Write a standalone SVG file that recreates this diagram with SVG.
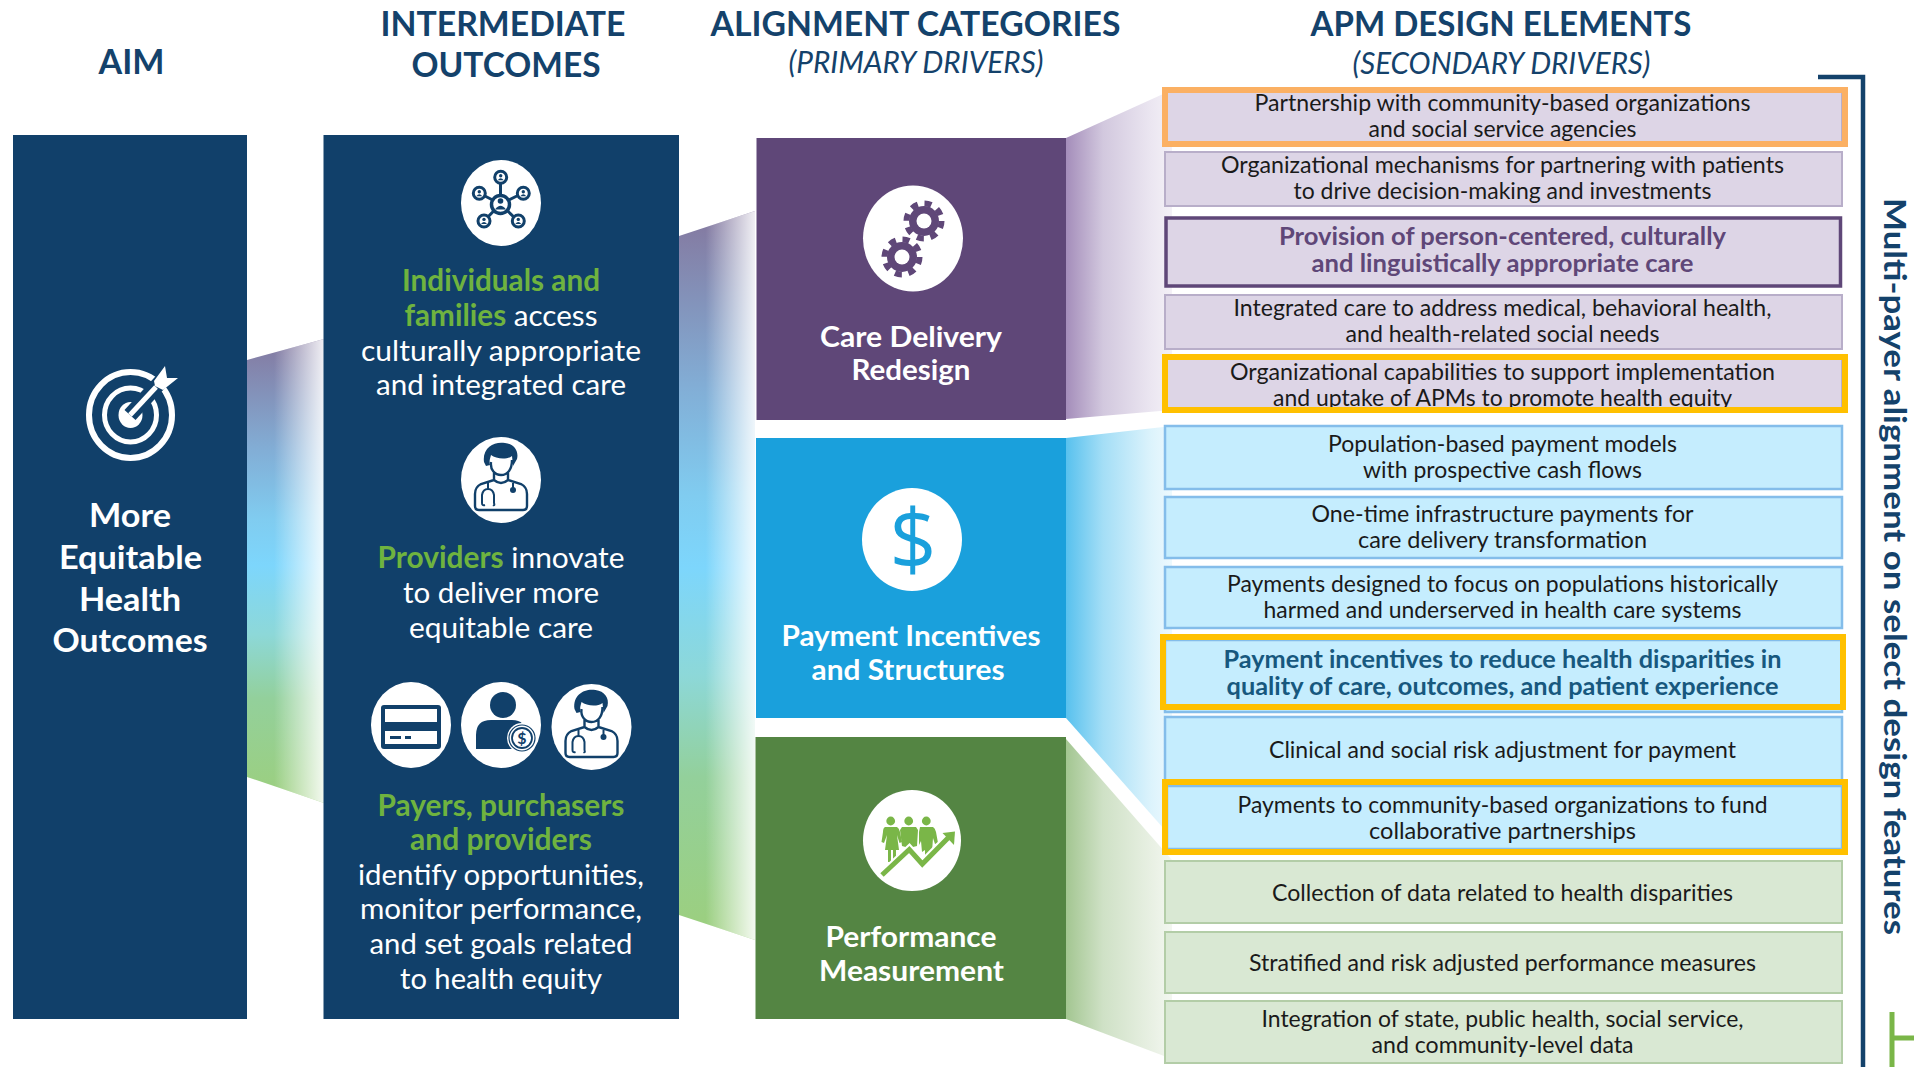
<svg xmlns="http://www.w3.org/2000/svg" xmlns:xlink="http://www.w3.org/1999/xlink" width="1914" height="1067" viewBox="0 0 1914 1067">
<style>
text{font-family:Lato,"Liberation Sans",sans-serif;text-anchor:middle}
.hd{font-size:35px;font-weight:700;fill:#14426b}
.hi{font-size:30px;font-style:italic;fill:#14426b}
.aim{font-size:33px;font-weight:700;fill:#fff}
.out{font-size:29.5px;fill:#fff}
.g{font-weight:700;fill:#6fb33f}
.cat{font-size:29px;font-weight:700;fill:#fff}
.el{font-size:24px;fill:#1a1a1a}
.b1{font-weight:700;fill:#5f4778}
.b2{font-weight:700;fill:#17587e}
.pu{fill:#ddd5e6;stroke:#b8aec9;stroke-width:2}
.bl{fill:#c5edfe;stroke:#84bdea;stroke-width:2.5}
.gr{fill:#d9e8d3;stroke:#b3cda7;stroke-width:2}
.hl{fill:none;stroke-width:6}
.navy{fill:#11406a}
.wh{fill:#fff}
.nl{stroke:#11406a;stroke-width:3;fill:none}
</style>
<defs>
<linearGradient id="v1" gradientUnits="userSpaceOnUse" x1="0" y1="340" x2="0" y2="800">
<stop offset="0" stop-color="#84789f"/><stop offset=".24" stop-color="#82aed6"/><stop offset=".39" stop-color="#80ccf0"/><stop offset=".49" stop-color="#7dd6fc"/><stop offset=".64" stop-color="#8dd8d8"/><stop offset=".78" stop-color="#93d09b"/><stop offset="1" stop-color="#9ccf7e"/>
</linearGradient>
<linearGradient id="v2" gradientUnits="userSpaceOnUse" x1="0" y1="215" x2="0" y2="935">
<stop offset="0" stop-color="#84789f"/><stop offset=".24" stop-color="#82aed6"/><stop offset=".39" stop-color="#80ccf0"/><stop offset=".49" stop-color="#7dd6fc"/><stop offset=".64" stop-color="#8dd8d8"/><stop offset=".78" stop-color="#93d09b"/><stop offset="1" stop-color="#9ccf7e"/>
</linearGradient>
<linearGradient id="f1" gradientUnits="userSpaceOnUse" x1="247" y1="0" x2="324" y2="0"><stop offset=".35" stop-color="#fff" stop-opacity="0"/><stop offset="1" stop-color="#fff" stop-opacity=".88"/></linearGradient>
<linearGradient id="f2" gradientUnits="userSpaceOnUse" x1="679" y1="0" x2="755" y2="0"><stop offset=".35" stop-color="#fff" stop-opacity="0"/><stop offset="1" stop-color="#fff" stop-opacity=".88"/></linearGradient>
<linearGradient id="fp" gradientUnits="userSpaceOnUse" x1="1066" y1="0" x2="1172" y2="0"><stop offset="0" stop-color="#a48dba"/><stop offset=".35" stop-color="#d2c8de"/><stop offset=".8" stop-color="#ebe6f1"/><stop offset="1" stop-color="#f4f1f7"/></linearGradient>
<linearGradient id="fb" gradientUnits="userSpaceOnUse" x1="1066" y1="0" x2="1172" y2="0"><stop offset="0" stop-color="#58c1ee"/><stop offset=".35" stop-color="#a4def6"/><stop offset=".8" stop-color="#dcf3fc"/><stop offset="1" stop-color="#edf9fe"/></linearGradient>
<linearGradient id="fg" gradientUnits="userSpaceOnUse" x1="1066" y1="0" x2="1172" y2="0"><stop offset="0" stop-color="#a3c691"/><stop offset=".35" stop-color="#cfe1c6"/><stop offset=".8" stop-color="#e8f0e3"/><stop offset="1" stop-color="#f3f7f0"/></linearGradient>
<g id="doctor">
<path class="navy" d="M-17-18C-19-33-6-39 4-37C13-36 18-29 16-21L12-14L11-24C6-20-5-21-10-25C-11-21-12-19-11-15L-15-14Z"/>
<path d="M-10-18C-11-10-6-5 0-5C7-5 11-11 11-20M-7-7L-7 0M7-7L7 0M-7 0Q0 6 7 0M-7 0L-20 4Q-26 7-26 14L-26 26Q-26 30-22 30L22 30Q26 30 26 26L26 14Q26 7 20 4L7 0" fill="none" stroke="#11406a" stroke-width="2.4"/>
<path d="M-13 3L-13 9M-8 25Q-6 26-7 23L-7 15Q-8 9-13 9Q-18 9-19 15L-19 23Q-19 26-16 25M12 3L12 8" fill="none" stroke="#11406a" stroke-width="2"/>
<circle cx="12" cy="10" r="3" class="navy"/>
</g>
<g id="person"><circle r="6" class="wh" stroke="#11406a" stroke-width="3"/><circle cy="-1.6" r="1.7" class="navy"/><path class="navy" d="M-3 3Q0-1 3 3Z"/></g>
<g id="gear"><circle r="15" fill="#5f4778"/><circle r="17.5" fill="none" stroke="#5f4778" stroke-width="6" stroke-dasharray="7 6.74"/><circle r="7.5" class="wh"/></g>
</defs>

<g id="connectors">
<polygon points="247,360 324,339 324,803 247,777" fill="url(#v1)"/>
<polygon points="247,360 324,339 324,803 247,777" fill="url(#f1)"/>
<polygon points="679,236 755,211 755,940 679,915" fill="url(#v2)"/>
<polygon points="679,236 755,211 755,940 679,915" fill="url(#f2)"/>
<polygon points="1066,138 1172,90 1172,410 1066,419" fill="url(#fp)"/>
<polygon points="1066,438 1172,426 1172,838 1066,718" fill="url(#fb)"/>
<polygon points="1066,739 1172,860 1172,1059 1066,1019" fill="url(#fg)"/>
</g>

<g id="headers">
<text class="hd" x="131.5" y="74" textLength="66" lengthAdjust="spacingAndGlyphs">AIM</text>
<text class="hd" x="503" y="36" textLength="245" lengthAdjust="spacingAndGlyphs">INTERMEDIATE</text>
<text class="hd" x="506" y="77" textLength="189" lengthAdjust="spacingAndGlyphs">OUTCOMES</text>
<text class="hd" x="915.5" y="36" textLength="410" lengthAdjust="spacingAndGlyphs">ALIGNMENT CATEGORIES</text>
<text class="hi" x="916" y="73" textLength="255" lengthAdjust="spacingAndGlyphs">(PRIMARY DRIVERS)</text>
<text class="hd" x="1501" y="36" textLength="381" lengthAdjust="spacingAndGlyphs">APM DESIGN ELEMENTS</text>
<text class="hi" x="1501.5" y="74" textLength="298" lengthAdjust="spacingAndGlyphs">(SECONDARY DRIVERS)</text>
</g>

<g id="aim">
<rect x="13" y="135" width="234" height="884" class="navy"/>
<g id="aim-icon" fill="none" stroke="#fff">
<ellipse cx="130.5" cy="415" rx="41.5" ry="43" stroke-width="6"/>
<ellipse cx="130.5" cy="415" rx="26" ry="27" stroke-width="5"/>
<ellipse cx="130.5" cy="415" rx="12" ry="13" fill="#fff" stroke="none"/>
<path d="M130 415L165 377" stroke="#11406a" stroke-width="15"/>
<path d="M130 415L156 387" stroke-width="5"/>
<polygon points="154,381 165,366 167,378 178,378 163,390 155,386" fill="#fff" stroke="none"/>
</g>
<text class="aim" x="130" y="527" textLength="82" lengthAdjust="spacingAndGlyphs">More</text>
<text class="aim" x="130.5" y="569" textLength="143" lengthAdjust="spacingAndGlyphs">Equitable</text>
<text class="aim" x="130" y="611" textLength="102" lengthAdjust="spacingAndGlyphs">Health</text>
<text class="aim" x="130" y="652" textLength="155" lengthAdjust="spacingAndGlyphs">Outcomes</text>
</g>

<g id="outcomes">
<rect x="323.5" y="135" width="355.5" height="884" class="navy"/>
<g id="icon-network">
<ellipse cx="501" cy="203" rx="40" ry="43" class="wh"/>
<path class="nl" d="M500.5 204L500.5 178M500.5 204L479 193M500.5 204L523 193M500.5 204L484 221M500.5 204L518 221"/>
<circle cx="500.5" cy="204.5" r="9" class="wh" stroke="#11406a" stroke-width="3.5"/><circle cx="500.5" cy="201" r="2.8" class="navy"/><path class="navy" d="M495 209.5Q500.5 202 506 209.5Z"/>
<use href="#person" x="500.7" y="177.3"/><use href="#person" x="479.3" y="193.3"/><use href="#person" x="523.3" y="193.3"/><use href="#person" x="484" y="221"/><use href="#person" x="518.3" y="221"/>
</g>
<text class="out g" x="501" y="291" textLength="198" lengthAdjust="spacingAndGlyphs">Individuals and</text>
<text class="out" x="501" y="326" textLength="193" lengthAdjust="spacingAndGlyphs"><tspan class="g">families</tspan> access</text>
<text class="out" x="501" y="361" textLength="280" lengthAdjust="spacingAndGlyphs">culturally appropriate</text>
<text class="out" x="501" y="395" textLength="250" lengthAdjust="spacingAndGlyphs">and integrated care</text>
<g id="icon-provider"><ellipse cx="501" cy="480" rx="40" ry="43" class="wh"/><use href="#doctor" x="501" y="480"/></g>
<text class="out" x="501" y="568" textLength="247" lengthAdjust="spacingAndGlyphs"><tspan class="g">Providers</tspan> innovate</text>
<text class="out" x="501" y="603" textLength="196" lengthAdjust="spacingAndGlyphs">to deliver more</text>
<text class="out" x="501" y="638" textLength="184" lengthAdjust="spacingAndGlyphs">equitable care</text>
<g id="icon-card"><ellipse cx="411" cy="725" rx="40" ry="43" class="wh"/>
<rect x="381" y="705" width="60" height="44" rx="3" class="navy"/>
<rect x="385" y="709" width="52" height="13" fill="#fff"/><rect x="385" y="731" width="52" height="13" fill="#fff"/>
<rect x="390" y="736" width="11" height="3" class="navy"/><rect x="405" y="736" width="6" height="3" class="navy"/></g>
<g id="icon-payer"><ellipse cx="501" cy="725" rx="40" ry="43" class="wh"/>
<circle cx="503" cy="705" r="13" class="navy"/>
<path class="navy" d="M476 749L476 735Q476 720 491 720L512 720Q526 720 526 735L526 749Z"/>
<circle cx="522" cy="738" r="15" class="wh"/><circle cx="522" cy="738" r="13" fill="none" stroke="#11406a" stroke-width="1.2"/><circle cx="522" cy="738" r="10" fill="none" stroke="#11406a" stroke-width="1.8"/>
<text x="522" y="744" font-size="16" font-weight="700" fill="#11406a">$</text></g>
<g id="icon-doctor"><ellipse cx="591.5" cy="727" rx="40" ry="43" class="wh"/><use href="#doctor" x="591.5" y="727"/></g>
<text class="out g" x="501" y="816" textLength="247" lengthAdjust="spacingAndGlyphs">Payers, purchasers</text>
<text class="out g" x="501" y="850" textLength="182" lengthAdjust="spacingAndGlyphs">and providers</text>
<text class="out" x="501" y="885" textLength="286" lengthAdjust="spacingAndGlyphs">identify opportunities,</text>
<text class="out" x="501" y="919" textLength="282" lengthAdjust="spacingAndGlyphs">monitor performance,</text>
<text class="out" x="501" y="954" textLength="263" lengthAdjust="spacingAndGlyphs">and set goals related</text>
<text class="out" x="501" y="989" textLength="202" lengthAdjust="spacingAndGlyphs">to health equity</text>
</g>

<g id="care-delivery">
<rect x="756.5" y="138" width="309.5" height="282" fill="#5f4778"/>
<ellipse cx="913" cy="238.5" rx="50" ry="53" class="wh"/>
<use href="#gear" x="924" y="221"/>
<circle cx="902" cy="257" r="21.5" class="wh"/>
<use href="#gear" x="902" y="257"/>
<text class="cat" x="911" y="346.5" textLength="182" lengthAdjust="spacingAndGlyphs">Care Delivery</text>
<text class="cat" x="911" y="380" textLength="119" lengthAdjust="spacingAndGlyphs">Redesign</text>
</g>
<g id="payment">
<rect x="756" y="438" width="310" height="280" fill="#1aa0dc"/>
<ellipse cx="912" cy="539.5" rx="50" ry="51.5" class="wh"/>
<text x="913" y="570" font-size="85" fill="#1aa0dc" textLength="47" lengthAdjust="spacingAndGlyphs" style="font-family:'Open Sans','Liberation Sans',sans-serif">$</text>
<text class="cat" x="911" y="645.5" textLength="259" lengthAdjust="spacingAndGlyphs">Payment Incentives</text>
<text class="cat" x="908" y="679.5" textLength="193" lengthAdjust="spacingAndGlyphs">and Structures</text>
</g>
<g id="performance">
<rect x="755.5" y="737" width="310.5" height="282" fill="#548543"/>
<ellipse cx="912" cy="840.5" rx="49" ry="50.5" class="wh"/>
<g fill="#7ab648">
<circle cx="890.7" cy="821" r="4.4"/><circle cx="908.7" cy="821" r="4.4"/><circle cx="926.3" cy="821" r="4.4"/>
<path d="M885 827L897 827Q899 828 900 832L902 842L899.5 843L897 835L899 850L896 850L896 862L893 862L893 850L891 850L891 862L888 862L888 850L885 850L887 835L884 843L881.5 842L883 832Q883 828 885 827Z"/>
<path d="M902 827L916 827L918 830L917 846L909 848L902 846L900 830Z"/>
<path d="M920 827L933 827Q935 828 936 832L938 843L935 844L933 838L932 852L929 854L925 857L925 850L922 852L921 841L919 845L919 832Z"/>
</g>
<path d="M882 875L909.3 849.5L922.3 864L948 838" fill="none" stroke="#fff" stroke-width="9"/>
<path d="M882 875L909.3 849.5L922.3 864L948 838" fill="none" stroke="#7ab648" stroke-width="5"/>
<polygon points="942.5,833 955,831.5 954,845" fill="#7ab648"/>
<text class="cat" x="911" y="947" textLength="171" lengthAdjust="spacingAndGlyphs">Performance</text>
<text class="cat" x="911.5" y="981" textLength="185" lengthAdjust="spacingAndGlyphs">Measurement</text>
</g>

<g id="element-1"><rect x="1165" y="92" width="677" height="51" class="pu"/>
<text class="el" x="1502.5" y="110.5" textLength="496" lengthAdjust="spacingAndGlyphs">Partnership with community-based organizations</text>
<text class="el" x="1502.5" y="136.5" textLength="268" lengthAdjust="spacingAndGlyphs">and social service agencies</text>
<rect x="1165" y="90" width="680" height="54" class="hl" stroke="#fbb063"/></g>
<g id="element-2"><rect x="1165" y="152" width="677" height="54" class="pu"/>
<text class="el" x="1502.5" y="173" textLength="563" lengthAdjust="spacingAndGlyphs">Organizational mechanisms for partnering with patients</text>
<text class="el" x="1502.5" y="199" textLength="418" lengthAdjust="spacingAndGlyphs">to drive decision-making and investments</text></g>
<g id="element-3"><rect x="1166" y="218" width="674.5" height="68" fill="#ddd5e6" stroke="#5f4778" stroke-width="3.5"/>
<text class="el b1" x="1502.5" y="245" textLength="447" lengthAdjust="spacingAndGlyphs">Provision of person-centered, culturally</text>
<text class="el b1" x="1502.5" y="271.5" textLength="382" lengthAdjust="spacingAndGlyphs">and linguistically appropriate care</text></g>
<g id="element-4"><rect x="1165" y="295" width="677" height="54" class="pu"/>
<text class="el" x="1502.5" y="316" textLength="538" lengthAdjust="spacingAndGlyphs">Integrated care to address medical, behavioral health,</text>
<text class="el" x="1502.5" y="342" textLength="314" lengthAdjust="spacingAndGlyphs">and health-related social needs</text></g>
<g id="element-5"><rect x="1165" y="358" width="677" height="51" class="pu"/>
<text class="el" x="1502.5" y="379.5" textLength="545" lengthAdjust="spacingAndGlyphs">Organizational capabilities to support implementation</text>
<text class="el" x="1502.5" y="405.5" textLength="459" lengthAdjust="spacingAndGlyphs">and uptake of APMs to promote health equity</text>
<rect x="1165" y="357" width="680" height="53" class="hl" stroke="#ffc000"/></g>

<g id="element-6"><rect x="1165" y="426" width="677" height="63" class="bl"/>
<text class="el" x="1502.5" y="452" textLength="349" lengthAdjust="spacingAndGlyphs">Population-based payment models</text>
<text class="el" x="1502.5" y="478" textLength="279" lengthAdjust="spacingAndGlyphs">with prospective cash flows</text></g>
<g id="element-7"><rect x="1165" y="497" width="677" height="61" class="bl"/>
<text class="el" x="1502.5" y="522" textLength="382" lengthAdjust="spacingAndGlyphs">One-time infrastructure payments for</text>
<text class="el" x="1502.5" y="548" textLength="289" lengthAdjust="spacingAndGlyphs">care delivery transformation</text></g>
<g id="element-8"><rect x="1165" y="567" width="677" height="61" class="bl"/>
<text class="el" x="1502.5" y="592" textLength="551" lengthAdjust="spacingAndGlyphs">Payments designed to focus on populations historically</text>
<text class="el" x="1502.5" y="618" textLength="478" lengthAdjust="spacingAndGlyphs">harmed and underserved in health care systems</text></g>
<g id="element-9"><rect x="1165" y="640" width="677" height="72" class="bl"/>
<text class="el b2" x="1502.5" y="668" textLength="558" lengthAdjust="spacingAndGlyphs">Payment incentives to reduce health disparities in</text>
<text class="el b2" x="1502.5" y="694.5" textLength="552" lengthAdjust="spacingAndGlyphs">quality of care, outcomes, and patient experience</text>
<rect x="1163" y="637" width="680" height="70" class="hl" stroke="#ffc000"/></g>
<g id="element-10"><rect x="1165" y="717" width="677" height="66" class="bl"/>
<text class="el" x="1502.5" y="758" textLength="467" lengthAdjust="spacingAndGlyphs">Clinical and social risk adjustment for payment</text></g>
<g id="element-11"><rect x="1167" y="786" width="675" height="63" class="bl"/>
<text class="el" x="1502.5" y="813" textLength="530" lengthAdjust="spacingAndGlyphs">Payments to community-based organizations to fund</text>
<text class="el" x="1502.5" y="839" textLength="267" lengthAdjust="spacingAndGlyphs">collaborative partnerships</text>
<rect x="1165" y="782" width="680" height="70" class="hl" stroke="#ffc000"/></g>

<g id="element-12"><rect x="1165" y="861" width="677" height="62" class="gr"/>
<text class="el" x="1502.5" y="901" textLength="461" lengthAdjust="spacingAndGlyphs">Collection of data related to health disparities</text></g>
<g id="element-13"><rect x="1165" y="932" width="677" height="61" class="gr"/>
<text class="el" x="1502.5" y="971" textLength="507" lengthAdjust="spacingAndGlyphs">Stratified and risk adjusted performance measures</text></g>
<g id="element-14"><rect x="1165" y="1001" width="677" height="62" class="gr"/>
<text class="el" x="1502.5" y="1027" textLength="482" lengthAdjust="spacingAndGlyphs">Integration of state, public health, social service,</text>
<text class="el" x="1502.5" y="1053" textLength="262" lengthAdjust="spacingAndGlyphs">and community-level data</text></g>

<g id="bracket">
<path d="M1818 77L1863 77L1863 1067" fill="none" stroke="#14426b" stroke-width="4.5"/>
<path d="M1892 1012L1892 1067M1892 1038L1914 1038" fill="none" stroke="#7ab648" stroke-width="5"/>
<text x="0" y="0" transform="translate(1884 566.5) rotate(90)" font-size="31" font-weight="700" fill="#14426b" textLength="737" lengthAdjust="spacingAndGlyphs">Multi-payer alignment on select design features</text>
</g>
</svg>
